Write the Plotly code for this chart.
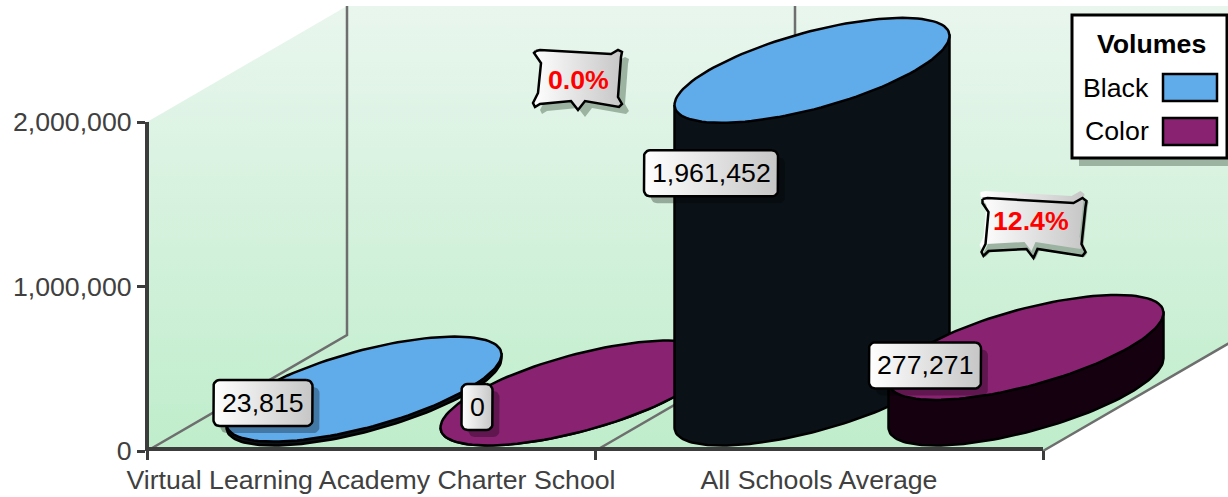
import math
import plotly.graph_objects as go

# ---------- data ----------
categories = ["Virtual Learning Academy Charter School", "All Schools Average"]
series_names = ["Black", "Color"]
black_values = [23815, 1961452]
color_values = [0, 277271]
percent_labels = ["0.0%", "12.4%"]
y_ticks = [0, 1000000, 2000000]
y_tick_labels = ["0", "1,000,000", "2,000,000"]
legend_title = "Volumes"

# ---------- scale of the plot (pixels) ----------
W, H = 1228, 497
X0_PX, X_UNIT = 371.0, 448.0          # category 0 centre, pixels per category
Y0_PX, Y_UNIT = 451.0, 329.0 / 2e6    # value 0, pixels per value
DEPTH_X, DEPTH_Y = 200.0, 116.0       # oblique depth of the floor


def ux(px): return (px - X0_PX) / X_UNIT
def uy(py): return (Y0_PX - py) / Y_UNIT
def dux(dpx): return dpx / X_UNIT
def duy(dpx): return -dpx / Y_UNIT   # +dpx means downwards on screen


def proj(u, v, d=0.0):
    return u + d * DEPTH_X / X_UNIT, v + d * DEPTH_Y / Y_UNIT


BLUE, PURPLE = "#60ACEB", "#8A2272"
BLUE_SIDE, PURPLE_SIDE = "#0A1218", "#14000F"
GRAY = "#6E6E6E"
AXIS = "#3C3C3C"
TEXT = "#404040"
FONT = "Liberation Sans"
FS = 26.7

traces = []


def poly(xs, ys, fill=None, line="rgba(0,0,0,0)", lw=0, grad=None, name=None):
    kw = dict(x=list(xs), y=list(ys), mode="lines", xaxis="x", yaxis="y",
              hoverinfo="skip", showlegend=False, line=dict(color=line, width=lw))
    if name:
        kw["name"] = name
    if grad:
        kw["fill"] = "toself"
        kw["fillgradient"] = grad
    elif fill:
        kw["fill"] = "toself"
        kw["fillcolor"] = fill
    traces.append(go.Scatter(**kw))


# ---------- walls and floor ----------
vmax = max(y_ticks)
corners = [proj(-0.5, 0), proj(-0.5, vmax), proj(-0.5, vmax, 1), proj(1.5, vmax, 1), proj(1.5, 0, 1), proj(1.5, 0)]
poly([c[0] for c in corners] + [corners[0][0]], [c[1] for c in corners] + [corners[0][1]],
     grad=dict(type="vertical", start=0, stop=proj(0, vmax, 1)[1],
               colorscale=[[0, "#BFEDCB"], [1, "#E9F6EE"]]))
for b in (-0.5, 0.5, 1.5):
    pts = [proj(b, 0), proj(b, 0, 1), proj(b, vmax, 1)]
    traces.append(go.Scatter(x=[p[0] for p in pts], y=[p[1] for p in pts], mode="lines",
                             xaxis="x", yaxis="y", hoverinfo="skip", showlegend=False,
                             line=dict(color=GRAY, width=2.5)))

# ---------- cylinders ----------
BAR_OFF = 107.0 / X_UNIT
HALF_W = 103.5 / X_UNIT
ELL_D = 0.4525
ELL_DX = ELL_D * DEPTH_X / X_UNIT
ELL_DY = ELL_D * DEPTH_Y / Y_UNIT
T0 = math.atan2(ELL_DX * X_UNIT, HALF_W * X_UNIT)


def ell(c, t):
    return c[0] + HALF_W * math.cos(t) + ELL_DX * math.sin(t), c[1] + ELL_DY * math.sin(t)


def cylinder(cat, series, value):
    off = -BAR_OFF if series == 0 else BAR_OFF
    top = proj(cat + off, value, 0.5)
    base = proj(cat + off, 0, 0.5)
    n = 80
    pts = [ell(top, T0 + math.pi), ell(top, T0)]
    # lower half of the base ellipse, right extreme to left extreme, below the centre
    for k in range(n + 1):
        pts.append(ell(base, T0 - math.pi * k / n))
    pts.append(pts[0])
    poly([p[0] for p in pts], [p[1] for p in pts], fill=[BLUE_SIDE, PURPLE_SIDE][series],
         line="#000000", lw=2.5, name=series_names[series])
    tpts = [ell(top, 2 * math.pi * k / 120) for k in range(121)]
    poly([p[0] for p in tpts], [p[1] for p in tpts], fill=[BLUE, PURPLE][series],
         line="#000000", lw=2.5, name=series_names[series])


cylinder(0, 1, color_values[0])
cylinder(0, 0, black_values[0])
cylinder(1, 0, black_values[1])
cylinder(1, 1, color_values[1])

# ---------- value labels ----------
annotations = []
GRAD = dict(type="horizontal", colorscale=[[0, "#FFFFFF"], [1, "#C6C6C6"]])


def rounded(w, h, r=6.0):
    """Closed rounded box, offsets in pixels around a point given in axis units."""
    pts = []
    for (sx, sy, a0) in ((1, -1, -90), (1, 1, 0), (-1, 1, 90), (-1, -1, 180)):
        ox, oy = sx * (w / 2 - r), sy * (h / 2 - r)
        for k in range(7):
            a = math.radians(a0 + 15 * k)
            pts.append((ox + r * math.cos(a), oy + r * math.sin(a)))
    pts.append(pts[0])
    return pts


def box_trace(cx, cy, pts, dx, dy, **kw):
    xs = [cx + dux(p[0] + dx) for p in pts]
    ys = [cy + duy(p[1] + dy) for p in pts]
    if "grad" in kw:
        g = dict(kw.pop("grad"))
        g["start"], g["stop"] = min(xs), max(xs)
        kw["grad"] = g
    poly(xs, ys, **kw)


LABEL_DY = {(0, 0): 14, (0, 1): 14, (1, 0): 103, (1, 1): 18}
LABEL_W = {(0, 0): 99, (0, 1): 31, (1, 0): 134, (1, 1): 112}
LABEL_DX = -101.0
for cat, series, value in ((0, 0, black_values[0]), (0, 1, color_values[0]),
                           (1, 0, black_values[1]), (1, 1, color_values[1])):
    off = -BAR_OFF if series == 0 else BAR_OFF
    top = proj(cat + off, value, 0.5)
    cx = top[0] + dux(LABEL_DX)
    cy = top[1] + duy(LABEL_DY[(cat, series)])
    pts = rounded(LABEL_W[(cat, series)], 46)
    box_trace(cx, cy, pts, 7, 7, fill="rgba(0,0,0,0.30)")
    box_trace(cx, cy, pts, 0, 0, grad=GRAD, line="#000000", lw=2.5)
    annotations.append(dict(x=cx, y=cy, xref="x", yref="y", text=f"{value:,}", showarrow=False,
                            xanchor="center", yanchor="middle",
                            font=dict(family=FONT, size=FS, color="#000000")))

# ---------- percentage callouts ----------
PILLOW_A = [(-42, -29), (-38, -30), (33, -26), (40, -30), (44, -28), (43, -23), (40, 17), (44, 24), (41, 27),
            (7, 21), (0, 30), (-7, 21), (-38, 24), (-43, 27), (-45, 23), (-40, 13), (-37, -17), (-44, -27)]
PILLOW_B = [(-48, -22), (-43, -23), (43, -18), (52, -23), (56, -20), (55, -14), (51, 23), (55, 31), (52, 35),
            (7, 28), (3, 37), (-4, 28), (-42, 30), (-47, 35), (-49, 31), (-45, 23), (-42, -9), (-48, -18)]
callouts = [
    dict(cat=0, shift=0, ypx=80, pts=PILLOW_A, shadow=(7, 7), fill_off=(0, 0)),
    dict(cat=1, shift=4.5, ypx=221, pts=PILLOW_B, shadow=(2, 1), fill_off=(-2, -7)),
]
for text, c in zip(percent_labels, callouts):
    cx = c["cat"] + BAR_OFF + proj(0, 0, 0.5)[0] + dux(c["shift"])
    cy = uy(c["ypx"])
    pts = c["pts"] + [c["pts"][0]]
    box_trace(cx, cy, pts, *c["shadow"], fill="#9DB3A2")
    box_trace(cx, cy, pts, *c["fill_off"], grad=GRAD)
    box_trace(cx, cy, pts, 0, 0, line="#000000", lw=2.5)
    annotations.append(dict(x=cx, y=cy, xref="x", yref="y", text=f"<b>{text}</b>", showarrow=False,
                            xanchor="center", yanchor="middle",
                            font=dict(family=FONT, size=FS, color="#FF0000")))


# ---------- legend ----------
def pxx(p): return p / W
def pxy(p): return 1 - p / H


def rect(x0, y0, x1, y1, fill, line=None, lw=0):
    return dict(type="rect", xref="paper", yref="paper", x0=pxx(x0), x1=pxx(x1), y0=pxy(y1), y1=pxy(y0),
                fillcolor=fill, line=dict(color=line or fill, width=lw), layer="above")


shapes = [
    rect(1079, 22, 1228, 166, "#9DB3A2"),
    rect(1072, 15, 1227, 158, "#FFFFFF", "#000000", 3),
    rect(1163, 74, 1217, 101, BLUE, "#000000", 2.5),
    rect(1163, 118, 1217, 145, PURPLE, "#000000", 2.5),
]
annotations.append(dict(x=pxx(1151), y=pxy(44), xref="paper", yref="paper", text=f"<b>{legend_title}</b>",
                        showarrow=False, xanchor="center", yanchor="middle",
                        font=dict(family=FONT, size=FS, color="#000000")))
for name, ypx in zip(series_names, (88, 131)):
    annotations.append(dict(x=pxx(1151), y=pxy(ypx), xref="paper", yref="paper", text=name, showarrow=False,
                            xanchor="right", yanchor="middle",
                            font=dict(family=FONT, size=FS, color="#000000")))

# ---------- ruler axes, drawn above the full-page scene axes that share their scale ----------
traces.append(go.Scatter(x=[0, 1], y=[None, None], mode="lines", xaxis="x2", yaxis="y2",
                         hoverinfo="skip", showlegend=False))

fig = go.Figure(traces)
fig.update_layout(
    width=W, height=H, margin=dict(l=0, r=0, t=0, b=0, autoexpand=False), autosize=False,
    paper_bgcolor="#FFFFFF", plot_bgcolor="rgba(0,0,0,0)",
    showlegend=False, annotations=annotations, shapes=shapes,
    font=dict(family=FONT, size=FS, color=TEXT),
    xaxis2=dict(domain=[147 / W, 1043 / W], range=[-0.5, 1.5], anchor="free", position=(H - 449) / H,
                tickmode="array", tickvals=[0, 1], ticktext=categories, ticks="outside", ticklen=6,
                tickcolor="rgba(0,0,0,0)", tickwidth=1,
                minor=dict(tickmode="array", tickvals=[-0.5, 0.5, 1.5], ticks="outside", ticklen=9,
                           tickcolor=AXIS, tickwidth=3),
                showgrid=False, zeroline=False, showline=True, linecolor=AXIS, linewidth=4,
                tickfont=dict(family=FONT, size=FS, color=TEXT)),
    yaxis2=dict(domain=[(H - Y0_PX) / H, (H - 122) / H], range=[0, 2000000], anchor="free", position=147 / W,
                tickmode="array", tickvals=y_ticks, ticktext=y_tick_labels, ticks="outside", ticklen=8,
                tickcolor=AXIS, tickwidth=3, showgrid=False, zeroline=False, showline=True,
                linecolor=AXIS, linewidth=4, tickfont=dict(family=FONT, size=FS, color=TEXT)),
    xaxis=dict(domain=[0, 1], range=[ux(0), ux(W)], visible=False, anchor="y"),
    yaxis=dict(domain=[0, 1], range=[uy(H), uy(0)], visible=False, anchor="x"),
)

fig.write_html("out.html", config=dict(displayModeBar=False),
               post_script="document.body.style.margin='0';document.documentElement.style.overflow='hidden';")
